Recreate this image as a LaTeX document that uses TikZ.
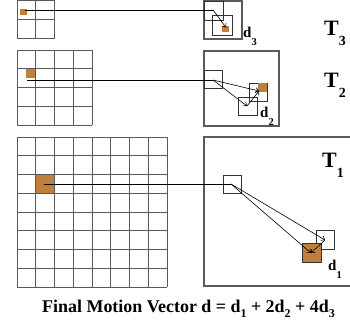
\documentclass[tikz,border=0pt]{standalone}
\usepackage{fontspec}
\setmainfont{Liberation Serif}
\usetikzlibrary{arrows.meta}
\definecolor{blockorange}{HTML}{C0803C}
\definecolor{gridgray}{HTML}{585858}
\definecolor{boxgray}{HTML}{5A5A5A}
\newcommand{\dsub}[1]{\raisebox{-8bp}{\fontsize{10.5}{10.5}\selectfont #1}}
\newcommand{\tsub}[1]{\raisebox{-10bp}{\fontsize{14}{14}\selectfont #1}}
\newcommand{\csub}[1]{\raisebox{-5bp}{\fontsize{12}{12}\selectfont #1}}
\begin{document}
\begin{tikzpicture}[x=1bp,y=-1bp,
  gridline/.style={draw=gridgray, line width=0.9bp},
  boxline/.style={draw=boxgray, line width=1.3bp},
  cellline/.style={draw=black!80, line width=0.8bp},
  blockfill/.style={fill=blockorange},
  link/.style={draw=black, line width=0.8bp},
  vec/.style={draw=black, line width=0.6bp, -{Straight Barb[length=3bp,width=5bp]}},
  dlabel/.style={anchor=base west, inner sep=0pt, font=\fontsize{15}{15}\selectfont\bfseries},
  tlabel/.style={anchor=base west, inner sep=0pt, font=\fontsize{22}{22}\selectfont\bfseries}]
\useasboundingbox (0,0) rectangle (350,328);

% ---------- T3 level ----------
\fill[blockfill] (20,8.5) rectangle (26.5,14.5);
\foreach \i in {0,1,2} {
  \draw[gridline] ({17+\i*18.75},0.75) -- ({17+\i*18.75},38.25);
  \draw[gridline] (17,{0.75+\i*18.75}) -- (54.5,{0.75+\i*18.75});
}
\draw[boxline] (204,1) rectangle (242,39);
\draw[cellline] (204,1) rectangle (223,20);
\draw[cellline] (212,15) rectangle (232,35);
\fill[blockfill] (222,26) rectangle (228.5,32);
\coordinate (a3) at (25,10.5);
\coordinate (s3) at (213.5,10.5);
\coordinate (e3) at (226,27.5);
\draw[link] (a3) -- (s3);
\draw[vec] (s3) -- (e3);
\node[dlabel] (d3) at (243,37) {d\dsub{3}};
\node[tlabel] (t3) at (324,35) {T\tsub{3}};

% ---------- T2 level ----------
\fill[blockfill] (26.4,68.75) rectangle (35.75,78.1);
\foreach \i in {0,...,4} {
  \draw[gridline] ({17+\i*18.75},50) -- ({17+\i*18.75},125);
  \draw[gridline] (17,{50+\i*18.75}) -- (92,{50+\i*18.75});
}
\draw[boxline] (204,51) rectangle (279,126);
\draw[cellline] (204,70) rectangle (222,88);
\draw[cellline] (238,97) rectangle (257,115);
\draw[cellline] (249,83) rectangle (267,101);
\fill[blockfill] (258,83.4) rectangle (266.6,92);
\coordinate (a2) at (27,80);
\coordinate (s2) at (213,80);
\coordinate (p2) at (247,106);
\coordinate (e2) at (259,91);
\draw[link] (a2) -- (s2);
\draw[vec] (s2) -- (e2);
\draw[vec] (s2) -- (p2);
\draw[vec] (p2) -- (e2);
\node[dlabel] (d2) at (260,117) {d\dsub{2}};
\node[tlabel] (t2) at (324,87) {T\tsub{2}};

% ---------- T1 level ----------
\fill[blockfill] (35.75,174.5) rectangle (54.5,193.25);
\foreach \i in {0,...,8} {
  \draw[gridline] ({17+\i*18.75},137) -- ({17+\i*18.75},287);
  \draw[gridline] (17,{137+\i*18.75}) -- (167,{137+\i*18.75});
}
\draw[boxline] (352,137) -- (204,137) -- (204,286) -- (352,286);
\draw[cellline] (223,175) rectangle (241,193);
\draw[cellline] (316,230) rectangle (334,249);
\draw[cellline, fill=blockorange] (302,243) rectangle (321,262);
\coordinate (a1) at (44,184);
\coordinate (s1) at (231,184);
\coordinate (p1) at (325,240);
\coordinate (e1) at (311,253);
\draw[link] (a1) -- (s1);
\draw[vec] (s1) -- (p1);
\draw[vec] (s1) -- (e1);
\draw[vec] (p1) -- (e1);
\node[dlabel] (d1) at (328,270) {d\dsub{1}};
\node[tlabel] (t1) at (322,167) {T\tsub{1}};

% ---------- caption ----------
\node[anchor=base, inner sep=0pt, font=\fontsize{18}{18}\selectfont\bfseries] (cap) at (188.5,312)
  {Final Motion Vector d = d\csub{1} + 2d\csub{2} + 4d\csub{3}};
\end{tikzpicture}
\end{document}
